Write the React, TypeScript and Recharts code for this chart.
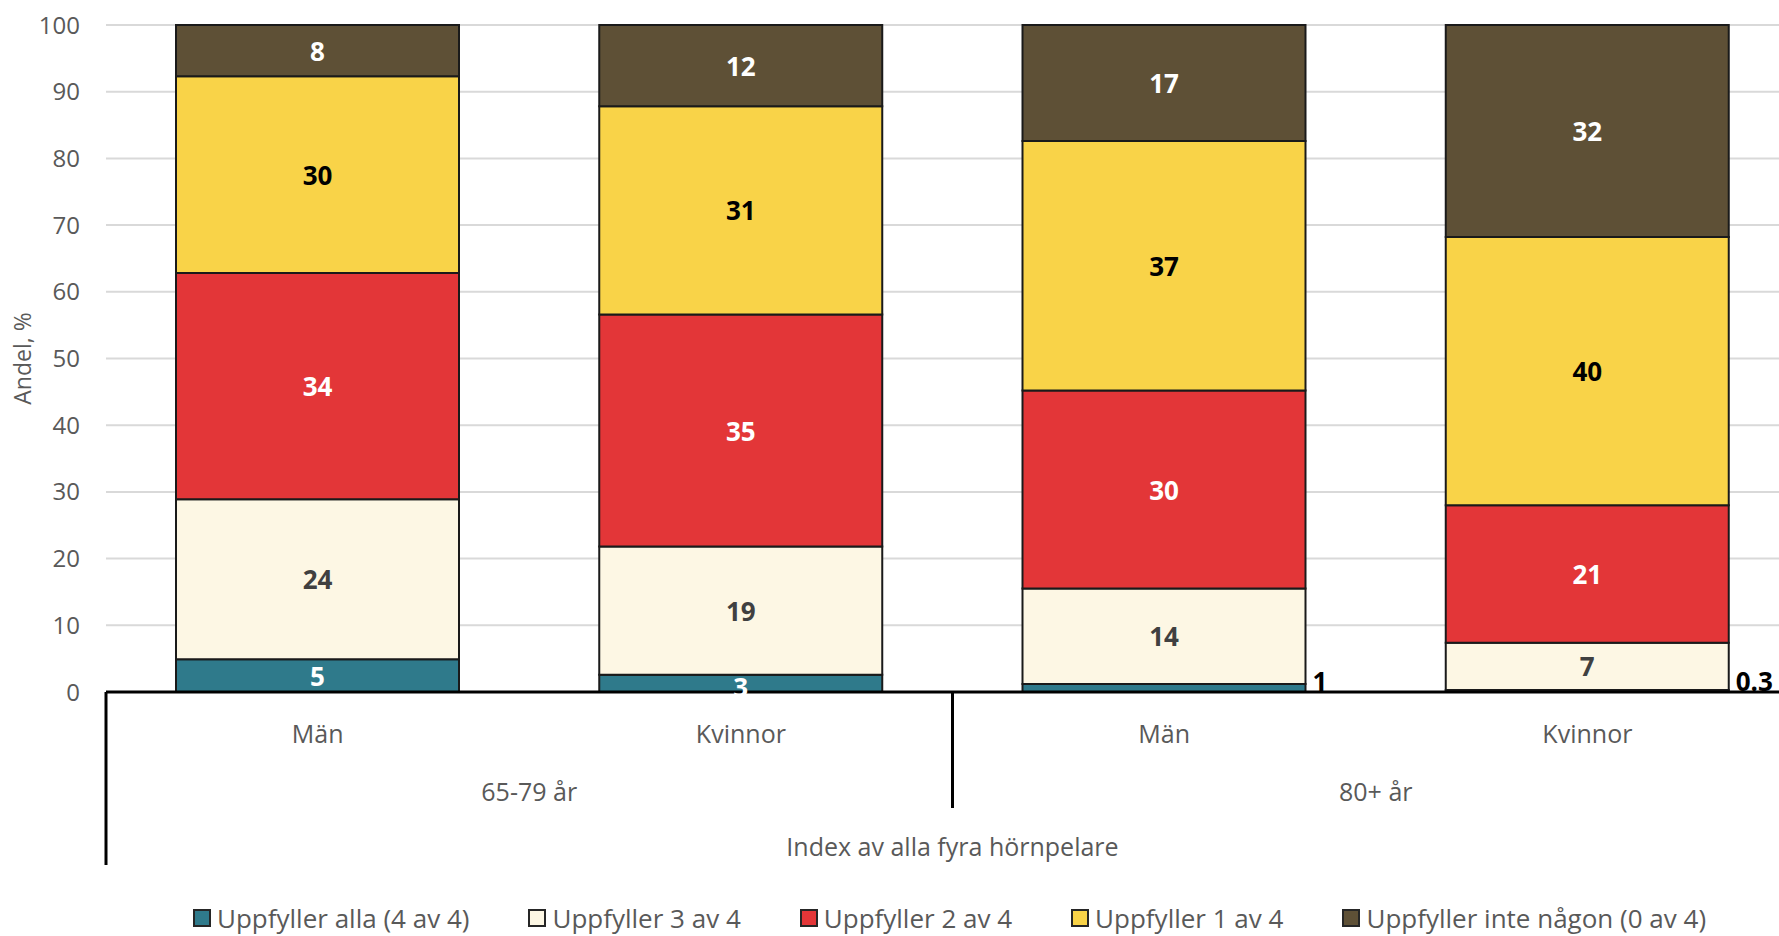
import React from "react";
import { BarChart, Bar, XAxis, YAxis, CartesianGrid, Legend, LabelList } from "recharts";

// Andel som uppfyller hörnpelarna, per kön och åldersgrupp (procent)
const sexes = ["Män", "Kvinnor", "Män", "Kvinnor"];
const ageGroups = ["65-79 år", "65-79 år", "80+ år", "80+ år"];
const uppfyllerAlla = [4.9, 2.6, 1.2, 0.3];
const uppfyller3 = [24.0, 19.2, 14.3, 7.1];
const uppfyller2 = [33.9, 34.8, 29.7, 20.6];
const uppfyller1 = [29.5, 31.2, 37.4, 40.2];
const uppfyllerIngen = [7.7, 12.2, 17.4, 31.8];
const yTicks = [0, 10, 20, 30, 40, 50, 60, 70, 80, 90, 100];
const xTitle = "Index av alla fyra hörnpelare";
const yTitle = "Andel, %";

const series = [
  { key: "alla", name: "Uppfyller alla (4 av 4)", color: "#2f7a8b", text: "#ffffff", values: uppfyllerAlla },
  { key: "tre", name: "Uppfyller 3 av 4", color: "#fdf7e4", text: "#404040", values: uppfyller3 },
  { key: "tva", name: "Uppfyller 2 av 4", color: "#e33638", text: "#ffffff", values: uppfyller2 },
  { key: "en", name: "Uppfyller 1 av 4", color: "#f9d348", text: "#000000", values: uppfyller1 },
  { key: "ingen", name: "Uppfyller inte någon (0 av 4)", color: "#5e5036", text: "#ffffff", values: uppfyllerIngen },
];

const data = sexes.map((sex, i) => {
  const row: Record<string, string | number> = { id: `${sex} ${ageGroups[i]}` };
  series.forEach((s) => { row[s.key] = s.values[i]; });
  return row;
});

// layout
const W = 1779;
const H = 936;
const CHART_W = 1799; // plot runs a little past the right edge, like the original
const PLOT_LEFT = 106;
const PLOT_TOP = 25;
const PLOT_BOTTOM = 692;
const LEGEND_H = 40;
const X_AXIS_H = H - LEGEND_H - PLOT_BOTTOM;
const BAND = (CHART_W - PLOT_LEFT) / sexes.length;
const FONT = "'Open Sans', 'DejaVu Sans', sans-serif";
const GREY = "#595959";

const fmt = (v: number) => (v < 1 ? v.toFixed(1) : String(Math.round(v)));

function CategoryTick(props: any) {
  const { x, index } = props;
  const half = BAND / 2;
  const n = sexes.length;
  const base = PLOT_BOTTOM;
  const txt = { fill: GREY, fontSize: 25, fontFamily: FONT, textAnchor: "middle" as const, dominantBaseline: "central" as const };
  const out: React.ReactNode[] = [];

  out.push(<text key="c" x={x} y={base + 41} {...txt}>{sexes[index]}</text>);

  if (index === 0) {
    out.push(<line key="l0" x1={x - half} x2={x - half} y1={base} y2={base + 173} stroke="#000" strokeWidth={3} />);
  } else if (ageGroups[index] !== ageGroups[index - 1]) {
    out.push(<line key="lg" x1={x - half} x2={x - half} y1={base} y2={base + 116} stroke="#000" strokeWidth={3} />);
  }

  // group label when this is the last member of its group
  if (index === n - 1 || ageGroups[index + 1] !== ageGroups[index]) {
    let start = index;
    while (start > 0 && ageGroups[start - 1] === ageGroups[index]) start--;
    out.push(<text key="g" x={x - (index - start) * half} y={base + 99} {...txt}>{ageGroups[index]}</text>);
  }

  if (index === n - 1) {
    out.push(<text key="t" x={x - (n - 1) * half} y={base + 154} {...txt}>{xTitle}</text>);
  }
  return <g>{out}</g>;
}

const makeLabel = (textColor: string) => (p: any) => {
  const x = Number(p.x), y = Number(p.y), w = Number(p.width), h = Number(p.height);
  const v = Number(p.value);
  if (!v && v !== 0) return null;
  if (v < 2) {
    return (
      <text x={x + w + 7} y={y + h - 1} fill="#000" fontSize={26} fontWeight={700} fontFamily={FONT}>
        {fmt(v)}
      </text>
    );
  }
  // small segments: Excel puts the number a bit lower
  const dy = h < 30 ? 4 : 0;
  return (
    <text x={x + w / 2} y={y + h / 2 + dy} fill={textColor} fontSize={26} fontWeight={700} fontFamily={FONT}
      textAnchor="middle" dominantBaseline="central">
      {fmt(v)}
    </text>
  );
};

function LegendBox() {
  return (
    <div style={{
      display: "flex", alignItems: "flex-end", height: LEGEND_H, boxSizing: "border-box",
      paddingLeft: 193, gap: 59, fontFamily: FONT, fontSize: 26, color: GREY, whiteSpace: "nowrap",
    }}>
      {series.map((s) => (
        <div key={s.key} style={{ display: "flex", alignItems: "center", gap: 6 }}>
          <span style={{
            display: "inline-block", width: 18, height: 18, boxSizing: "border-box",
            background: s.color, border: "2px solid #262626",
          }} />
          <span>{s.name}</span>
        </div>
      ))}
    </div>
  );
}

export default function App() {
  return (
    <div style={{
      position: "fixed", left: 0, top: 0, width: W, height: H, overflow: "hidden",
      background: "#fff", fontFamily: FONT,
    }}>
      <BarChart width={CHART_W} height={H} data={data} margin={{ top: PLOT_TOP, right: 0, bottom: 0, left: 0 }}>
        <CartesianGrid horizontal vertical={false} stroke="#d9d9d9" strokeWidth={2} />
        <YAxis
          type="number"
          domain={[0, 100]}
          ticks={yTicks}
          width={PLOT_LEFT}
          axisLine={false}
          tickLine={false}
          tickMargin={20}
          tick={{ fill: GREY, fontSize: 24, fontFamily: FONT }}
          label={{
            value: yTitle, angle: -90, position: "insideLeft", offset: 23,
            style: { textAnchor: "middle", fill: GREY, fontSize: 23, fontFamily: FONT },
          }}
        />
        <XAxis
          dataKey="id"
          interval={0}
          height={X_AXIS_H}
          tickLine={false}
          axisLine={{ stroke: "#000", strokeWidth: 3 }}
          tick={<CategoryTick />}
        />
        <Legend
          verticalAlign="bottom"
          height={LEGEND_H}
          wrapperStyle={{ left: 0, bottom: 0, width: W, height: LEGEND_H }}
          content={() => <LegendBox />}
        />
        {series.map((s) => (
          <Bar key={s.key} dataKey={s.key} name={s.name} stackId="a" fill={s.color}
            stroke="#1a1a1a" strokeWidth={2} barSize={283} isAnimationActive={false}>
            <LabelList dataKey={s.key} content={makeLabel(s.text)} />
          </Bar>
        ))}
      </BarChart>
    </div>
  );
}
